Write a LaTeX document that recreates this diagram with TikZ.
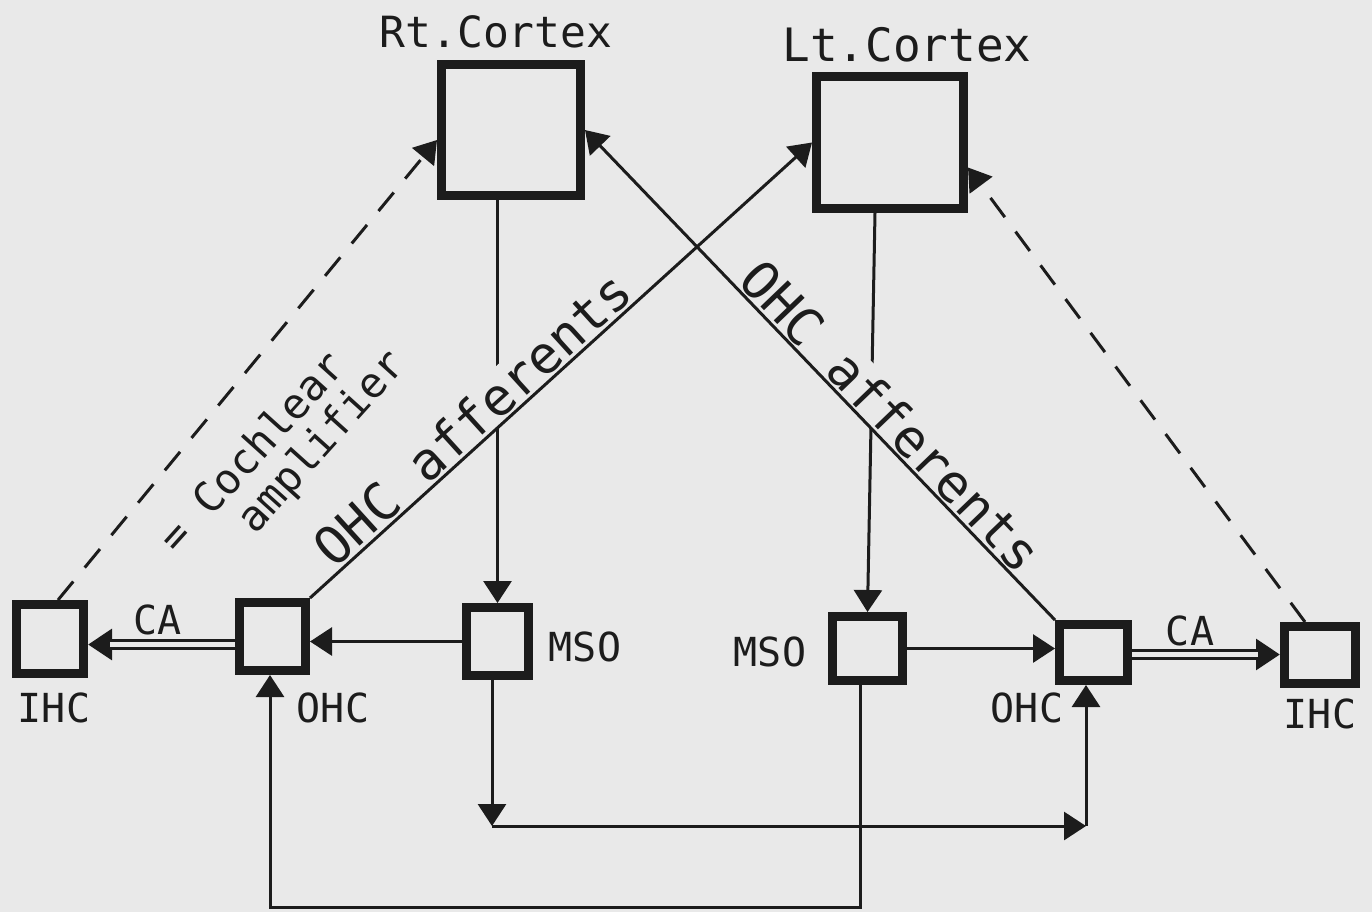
\documentclass[tikz,border=0pt]{standalone}
\usepackage{fontspec}
\setmonofont{DejaVu Sans Mono}
\usetikzlibrary{arrows.meta,calc}
\definecolor{paper}{RGB}{233,233,233}
\definecolor{ink}{RGB}{28,28,28}
\begin{document}
\begin{tikzpicture}[x=0.5pt,y=-0.5pt,
  box/.style={draw=ink,fill=paper,line width=4.5pt,inner sep=0pt},
  lbl/.style={text=ink,font=\ttfamily\fontsize{20}{22}\selectfont,inner sep=1pt},
  thin/.style={draw=ink,line width=1.5pt},
  arr/.style={thin,-{Triangle[length=11pt,width=14pt]}},
  dsh/.style={arr,dash pattern=on 12pt off 9pt},
  dbl/.style={draw=ink,line width=5.5pt,-{Triangle[length=12pt,width=15pt]}},
  dblcore/.style={draw=paper,line width=2.5pt,shorten >=11pt},
  slab/.style={text=ink,font=\ttfamily\fontsize{26}{28}\selectfont,inner sep=1.5pt,fill=paper},
  clab/.style={text=ink,font=\ttfamily\fontsize{21}{22}\selectfont,inner sep=1pt,rotate=48,align=left},
]
\fill[paper] (0,0) rectangle (1372,912);
\useasboundingbox (0,0) rectangle (1372,912);

% boxes
\node[box,minimum width=69.5pt,minimum height=65.5pt] (rtc) at (511,130) {};
\node[box,minimum width=73.5pt,minimum height=66pt] (ltc) at (890,142.5) {};
\node[box,minimum width=33.5pt,minimum height=34.5pt] (lihc) at (50,639) {};
\node[box,minimum width=33pt,minimum height=34pt] (lohc) at (272.5,636.5) {};
\node[box,minimum width=31pt,minimum height=34pt] (lmso) at (497.5,641.5) {};
\node[box,minimum width=35pt,minimum height=32pt] (rmso) at (867.5,648.5) {};
\node[box,minimum width=34pt,minimum height=28pt] (rohc) at (1093.5,652.5) {};
\node[box,minimum width=35.5pt,minimum height=28.5pt] (rihc) at (1320,655) {};

% labels
\node[lbl,font=\ttfamily\fontsize{21.5}{23}\selectfont] (trt) at (496,32) {Rt.Cortex};
\node[lbl,font=\ttfamily\fontsize{23}{25}\selectfont] (tlt) at (907,45) {Lt.Cortex};
\node[lbl] (tlihc) at (54,708) {IHC};
\node[lbl] (tlohc) at (333,708) {OHC};
\node[lbl] (tlmso) at (585,647) {MSO};
\node[lbl] (trmso) at (770,652) {MSO};
\node[lbl] (trohc) at (1027,708) {OHC};
\node[lbl] (trihc) at (1320,714) {IHC};
\node[lbl] (tca1) at (158,620) {CA};
\node[lbl] (tca2) at (1190,631) {CA};
\node[clab] (tcoch) at (284,453) {= Cochlear\\\hspace*{33.5pt}amplifier};

% vertical connectors from cortices
\draw[arr] (lmso.north |- rtc.south) -- (lmso.north);
\draw[arr] ($(ltc.south)+(-15,0)$) -- (rmso.north);

% sloped labels (filled, interrupting the vertical lines)
\path (lohc.north east) -- (ltc.west) node[slab,sloped,above,pos=0.355] (toa1) {OHC afferents};
\path (rohc.north west) -- (rtc.east) node[slab,sloped,above,pos=0.384] (toa2) {OHC afferents};

% diagonal afferents
\draw[arr] (lohc.north east) -- (ltc.west);
\draw[arr] (rohc.north west) -- (rtc.east);

% dashed IHC paths
\draw[dsh] ($(lihc.north)+(8,0)$) -- ($(rtc.west)+(0,10)$);
\draw[dsh] ($(rihc.north)+(-15,0)$) -- ($(ltc.east)+(0,25)$);

% MSO -> OHC
\draw[arr] (lmso.west) -- (lmso.west -| lohc.east);
\draw[arr] (rmso.east) -- (rmso.east -| rohc.west);

% CA double arrows
\coordinate (ca1) at ($(lohc.west)+(0,8)$);
\draw[dbl] (ca1) -- (ca1 -| lihc.east);
\draw[dblcore] (ca1) -- (ca1 -| lihc.east);
\coordinate (ca2) at ($(rohc.east)+(0,2)$);
\draw[dbl] (ca2) -- (ca2 -| rihc.west);
\draw[dblcore] (ca2) -- (ca2 -| rihc.west);

% bottom loops
\coordinate (c1) at (492,826);
\coordinate (c2) at (1086,826);
\draw[arr] (lmso.south -| c1) -- (c1);
\draw[arr] (c1) -- (c2);
\draw[arr] (c2) -- (c2 |- rohc.south);
\coordinate (c3) at (860,907);
\coordinate (c4) at (270,907);
\draw[arr] (rmso.south -| c3) -- (c3) -- (c4) -- (c4 |- lohc.south);
\end{tikzpicture}
\end{document}
